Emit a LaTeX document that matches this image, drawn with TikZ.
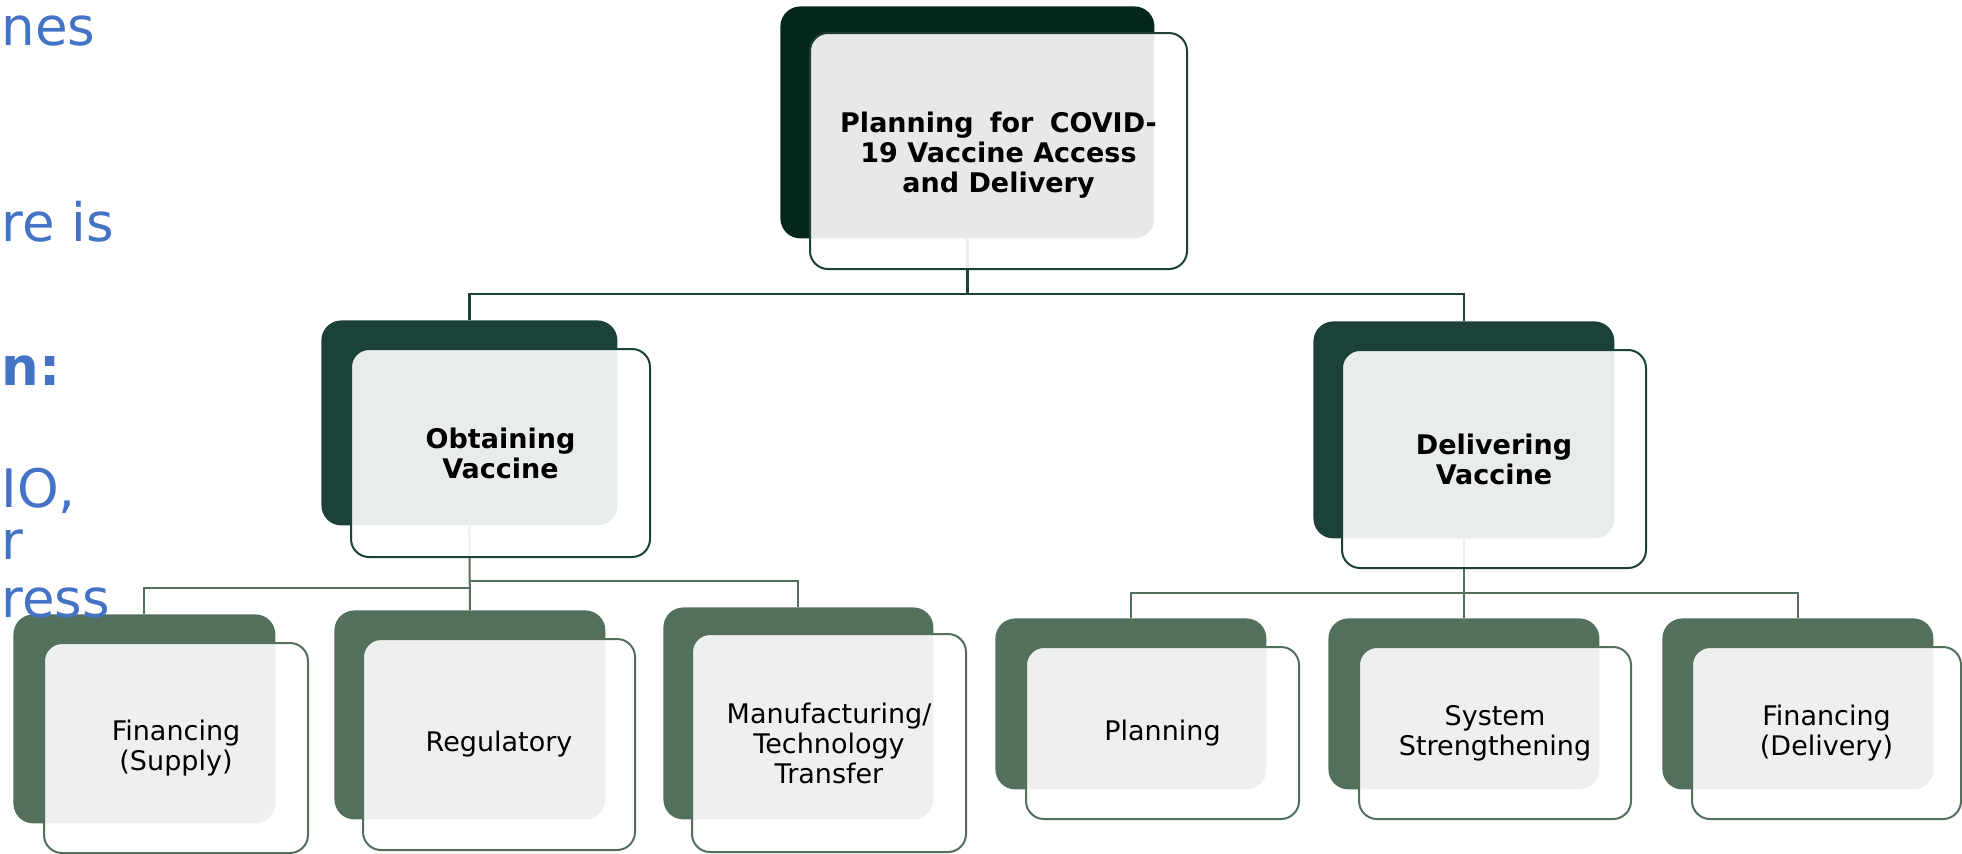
\documentclass[tikz,border=0pt]{standalone}
\usepackage{fontspec}
\setmainfont{DejaVu Sans}
\usepackage{tikz}
\usetikzlibrary{positioning}
\usepackage{xcolor}
\definecolor{topgreen}{HTML}{04261B}
\definecolor{midgreen}{HTML}{1B4138}
\definecolor{lowgreen}{HTML}{52705C}
\definecolor{slideblue}{HTML}{4472C4}

\begin{document}
\begin{tikzpicture}[x=0.5pt, y=-0.5pt,
    back/.style={rounded corners=10pt, inner sep=0pt, anchor=north west},
    front/.style={rounded corners=9pt, fill=white, fill opacity=0.9, text opacity=1, line width=1pt, align=center, inner sep=0pt},
    headtext/.style={font=\bfseries\fontsize{13.5}{15}\selectfont},
    leaftext/.style={font=\fontsize{13.5}{15}\selectfont},
    bluetext/.style={text=slideblue, font=\fontsize{26.5}{30}\selectfont, anchor=base west, inner sep=0pt}]
    \clip (0,0) rectangle (1962,853);

    % dark back cards
    \node[back, fill=topgreen, minimum width=187pt, minimum height=116pt] (plan-back) at (780,6) {};
    \node[back, fill=midgreen, minimum width=148pt, minimum height=102.5pt] (obtain-back) at (321,320) {};
    \node[back, fill=midgreen, minimum width=150.5pt, minimum height=108.5pt] (deliver-back) at (1313,321) {};
    \node[back, fill=lowgreen, minimum width=131pt, minimum height=104.5pt] (fsup-back) at (13,614) {};
    \node[back, fill=lowgreen, minimum width=135.5pt, minimum height=104.5pt] (reg-back) at (334,610) {};
    \node[back, fill=lowgreen, minimum width=135pt, minimum height=106pt] (manu-back) at (663,607) {};
    \node[back, fill=lowgreen, minimum width=135.5pt, minimum height=85.5pt] (prep-back) at (995,618) {};
    \node[back, fill=lowgreen, minimum width=135.5pt, minimum height=85.5pt] (sys-back) at (1328,618) {};
    \node[back, fill=lowgreen, minimum width=135.5pt, minimum height=85.5pt] (fdel-back) at (1662,618) {};

    % connectors
    \draw[midgreen, line width=1.25pt] (plan-back.south) -- ++(0,55) -| (obtain-back.north);
    \draw[midgreen, line width=1.25pt] (plan-back.south) ++(0,55) -| (deliver-back.north);
    \draw[lowgreen, line width=1pt] (obtain-back.south) -- (reg-back.north);
    \draw[lowgreen, line width=1pt] (obtain-back.south) ++(0,62) -| (fsup-back.north);
    \draw[lowgreen, line width=1pt] (obtain-back.south) ++(0,55) -| (manu-back.north);
    \draw[lowgreen, line width=1pt] (deliver-back.south) -- (sys-back.north);
    \draw[lowgreen, line width=1pt] (deliver-back.south) ++(0,54) -| (prep-back.north);
    \draw[lowgreen, line width=1pt] (deliver-back.south) ++(0,54) -| (fdel-back.north);

    % light front cards
    \node[front, draw=midgreen, headtext, minimum width=188.5pt, minimum height=118pt, below right=13pt and 14.5pt of plan-back.north west] (plan) {\spaceskip=0.6em\rule{0pt}{14pt}Planning for COVID-\\19 Vaccine Access\\and Delivery};
    \node[front, draw=midgreen, headtext, minimum width=149.5pt, minimum height=104pt, below right=14pt and 14.5pt of obtain-back.north west] (obtain) {Obtaining\\Vaccine};
    \node[front, draw=midgreen, headtext, minimum width=152pt, minimum height=109pt, below right=14pt and 14pt of deliver-back.north west] (deliver) {Delivering\\Vaccine};
    \node[front, draw=lowgreen, leaftext, minimum width=132pt, minimum height=105pt, below right=14pt and 15pt of fsup-back.north west] (fsup) {Financing\\(Supply)};
    \node[front, draw=lowgreen, leaftext, minimum width=136pt, minimum height=105.5pt, below right=14pt and 14pt of reg-back.north west] (reg) {Regulatory};
    \node[front, draw=lowgreen, leaftext, minimum width=137pt, minimum height=109pt, below right=13pt and 14pt of manu-back.north west] (manu) {Manufacturing/\\Technology\\Transfer};
    \node[front, draw=lowgreen, leaftext, minimum width=136.5pt, minimum height=86pt, below right=14pt and 15pt of prep-back.north west] (prep) {Planning};
    \node[front, draw=lowgreen, leaftext, minimum width=136pt, minimum height=86pt, below right=14pt and 15pt of sys-back.north west] (sys) {System\\Strengthening};
    \node[front, draw=lowgreen, leaftext, minimum width=134.5pt, minimum height=86pt, below right=14pt and 14.5pt of fdel-back.north west] (fdel) {Financing\\(Delivery)};

    % slide text at the left edge
    \node[bluetext] (cut-a) at (1,45) {nes};
    \node[bluetext] (cut-b) at (1,241) {re is};
    \node[bluetext, font=\bfseries\fontsize{26.5}{30}\selectfont] (cut-c) at (1,385) {n:};
    \node[bluetext] (cut-d) at (1,507) {IO,};
    \node[bluetext] (cut-e) at (1,559) {r};
    \node[bluetext] (cut-f) at (1,617) {ress};
\end{tikzpicture}
\end{document}
